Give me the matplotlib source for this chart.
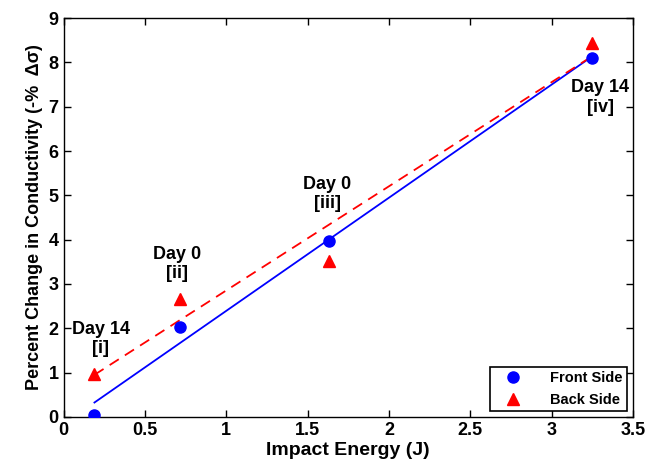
import numpy as np
import matplotlib
matplotlib.use("Agg")
import matplotlib.pyplot as plt

plt.rcParams['font.family'] = ['Liberation Sans', 'DejaVu Sans']
plt.rcParams['font.weight'] = 'bold'

energy = [0.19, 0.715, 1.63, 3.25]
front = [0.05, 2.02, 3.97, 8.09]
back = [0.98, 2.67, 3.52, 8.44]
labels = ["Day 14\n[i]", "Day 0\n[ii]", "Day 0\n[iii]", "Day 14\n[iv]"]
label_pos = [(0.23, 1.76), (0.70, 3.45), (1.62, 5.03), (3.30, 7.21)]

fig = plt.figure(figsize=(6.59, 4.69), dpi=100)
ax = fig.add_axes([0.0964, 0.1109, 0.8641, 0.8507])

x = np.array(energy)
pf = np.polyfit(x, front, 1)
pb = np.polyfit(x, back, 1)
xs = np.array([min(energy), max(energy)])
ax.plot(xs, np.polyval(pf, xs), color='blue', lw=1.3)
ax.plot(xs, np.polyval(pb, xs), color='red', lw=1.3, ls=(0, (6, 4)))
ax.plot(energy, front, 'o', color='blue', ms=8, label='Front Side', zorder=3)
ax.plot(energy, back, '^', color='red', ms=8, label='Back Side', zorder=3)

for t, (lx, ly) in zip(labels, label_pos):
    ax.text(lx, ly, t, ha='center', va='center', fontsize=13, fontweight='bold',
            linespacing=1.2)

ax.set_xlim(0, 3.5)
ax.set_ylim(0, 9)
ax.set_xticks(np.arange(0, 3.51, 0.5))
ax.set_xticklabels(['0', '0.5', '1', '1.5', '2', '2.5', '3', '3.5'])
ax.set_yticks(range(10))
ax.tick_params(direction='in', top=True, right=True, length=5, labelsize=13, width=1)
for lab in ax.get_xticklabels() + ax.get_yticklabels():
    lab.set_fontweight('bold')
ax.set_xlabel('Impact Energy (J)', fontsize=14, fontweight='bold', labelpad=2)
ax.set_ylabel('Percent Change in Conductivity (-%  Δσ)', fontsize=13, fontweight='bold', labelpad=4)
for s in ax.spines.values():
    s.set_linewidth(1)

leg = ax.legend(loc='lower right', fontsize=10.5, frameon=True, fancybox=False,
                edgecolor='black', framealpha=1, borderpad=0.3, handletextpad=1.3,
                borderaxespad=0.4, handlelength=2.5, markerfirst=True)
leg.get_frame().set_linewidth(1.2)
for t in leg.get_texts():
    t.set_fontweight('bold')

fig.savefig('out.png', dpi=100)
